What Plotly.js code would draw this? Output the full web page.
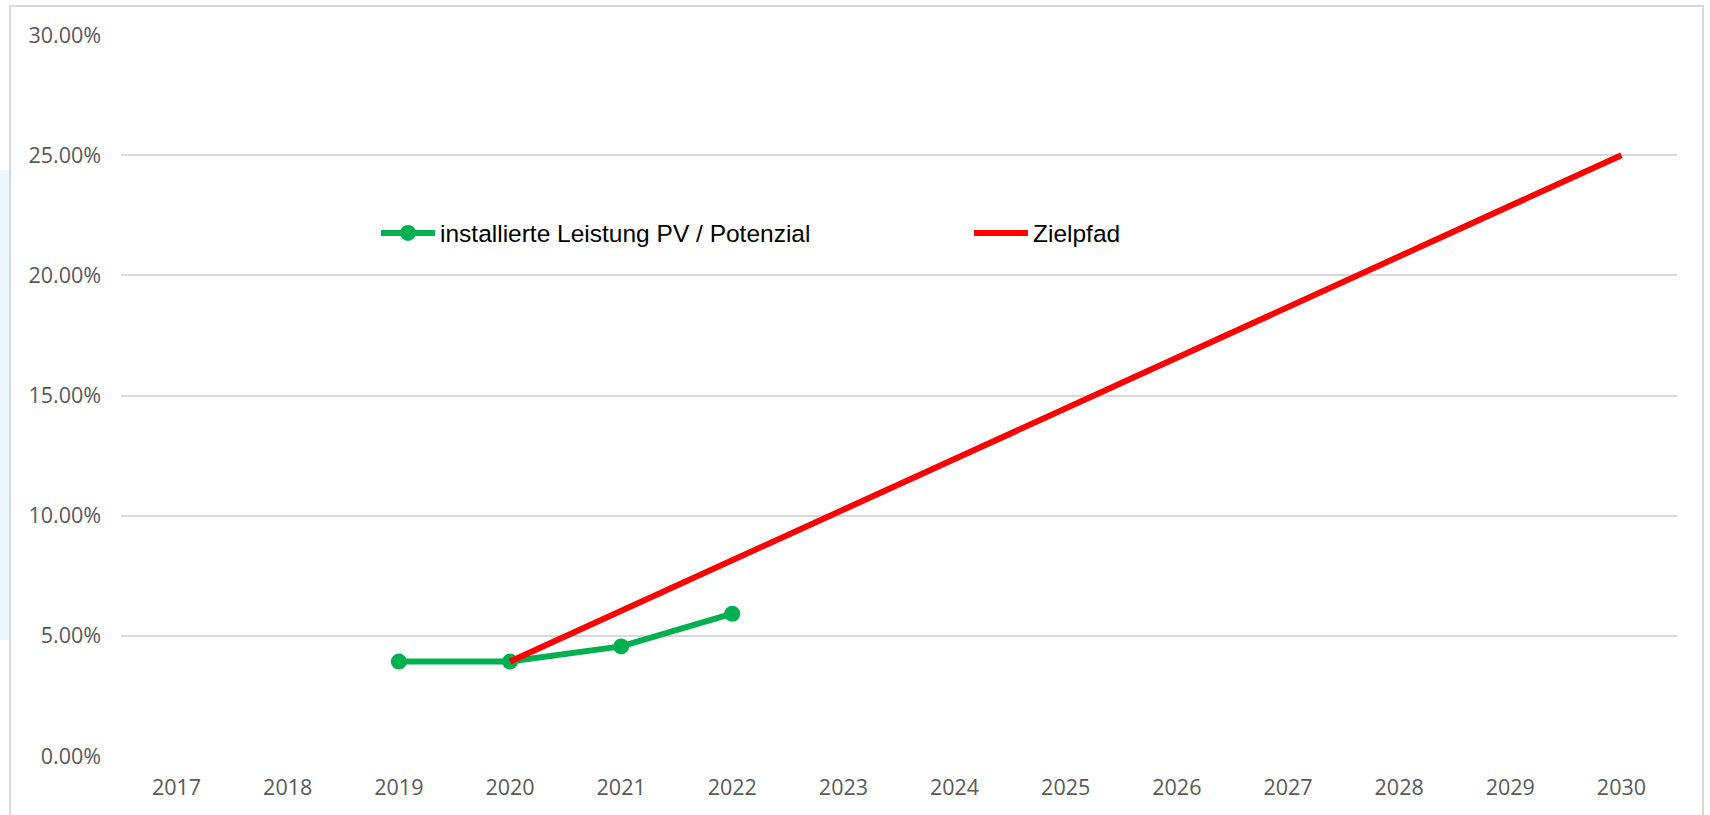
<!DOCTYPE html>
<html>
<head>
<meta charset="utf-8">
<script src="https://cdn.plot.ly/plotly-3.0.1.min.js"></script>
<style>
html,body{margin:0;padding:0;background:#fff;overflow:hidden;}
#chart{width:1710px;height:815px;}
</style>
</head>
<body>
<div id="chart"></div>
<script>
const years = ["2017","2018","2019","2020","2021","2022","2023","2024","2025","2026","2027","2028","2029","2030"];
const pvShare = [null, null, 0.0393, 0.0393, 0.0456, 0.0592, null, null, null, null, null, null, null, null];
const targetPath = [null, null, null, 0.0393, null, null, null, null, null, null, null, null, null, 0.25];
const seriesNames = ["installierte Leistung PV / Potenzial", "Zielpfad"];
const yTicks = [0, 0.05, 0.10, 0.15, 0.20, 0.25, 0.30];

const W = 1710, H = 815;
const M = {l: 121, r: 33, t: 35, b: 59};
const pw = W - M.l - M.r, ph = H - M.t - M.b;
const px = x => (x - M.l) / pw;
const py = y => (H - M.b - y) / ph;

const traces = [
  {
    x: years, y: pvShare, name: seriesNames[0], type: "scatter", mode: "lines+markers",
    line: {color: "#00b050", width: 6}, marker: {color: "#00b050", size: 16},
    connectgaps: false, hoverinfo: "x+y"
  },
  {
    x: years, y: targetPath, name: seriesNames[1], type: "scatter", mode: "lines",
    line: {color: "#ff0000", width: 6}, connectgaps: true, hoverinfo: "x+y"
  }
];

const layout = {
  width: W, height: H,
  margin: M,
  paper_bgcolor: "#ffffff", plot_bgcolor: "#ffffff",
  showlegend: true,
  legend: {
    orientation: "h", x: px(376), y: py(233), xanchor: "left", yanchor: "middle",
    bgcolor: "rgba(0,0,0,0)", borderwidth: 0,
    font: {family: "Liberation Sans, Arial, sans-serif", size: 24.5, color: "#000000"},
    entrywidth: 524, entrywidthmode: "pixels", itemwidth: 54
  },
  xaxis: {
    type: "category", range: [-0.5, 13.5], showgrid: false, zeroline: false, showline: false,
    ticks: "", ticklabelstandoff: 16,
    tickfont: {family: "Open Sans, sans-serif", size: 21.5, color: "#595959"},
    fixedrange: true
  },
  yaxis: {
    range: [0, 0.30], tickvals: yTicks, tickformat: ".2%",
    showgrid: true, gridcolor: "#d9d9d9", gridwidth: 2, zeroline: false, showline: false,
    ticks: "", ticklabelstandoff: 19,
    tickfont: {family: "Open Sans, sans-serif", size: 21.5, color: "#595959"},
    fixedrange: true
  },
  shapes: [
    {type: "rect", xref: "paper", yref: "paper", x0: px(0), x1: px(9), y0: py(640), y1: py(170),
     line: {width: 0}, fillcolor: "rgba(232,243,253,0.7)", layer: "below"},
    {type: "rect", xref: "paper", yref: "paper", x0: px(10), x1: px(1703), y0: py(830), y1: py(6),
     line: {color: "#d9d9d9", width: 2}, fillcolor: "rgba(0,0,0,0)", layer: "below"}
  ]
};

Plotly.newPlot("chart", traces, layout, {displayModeBar: false, staticPlot: true});
</script>
</body>
</html>
